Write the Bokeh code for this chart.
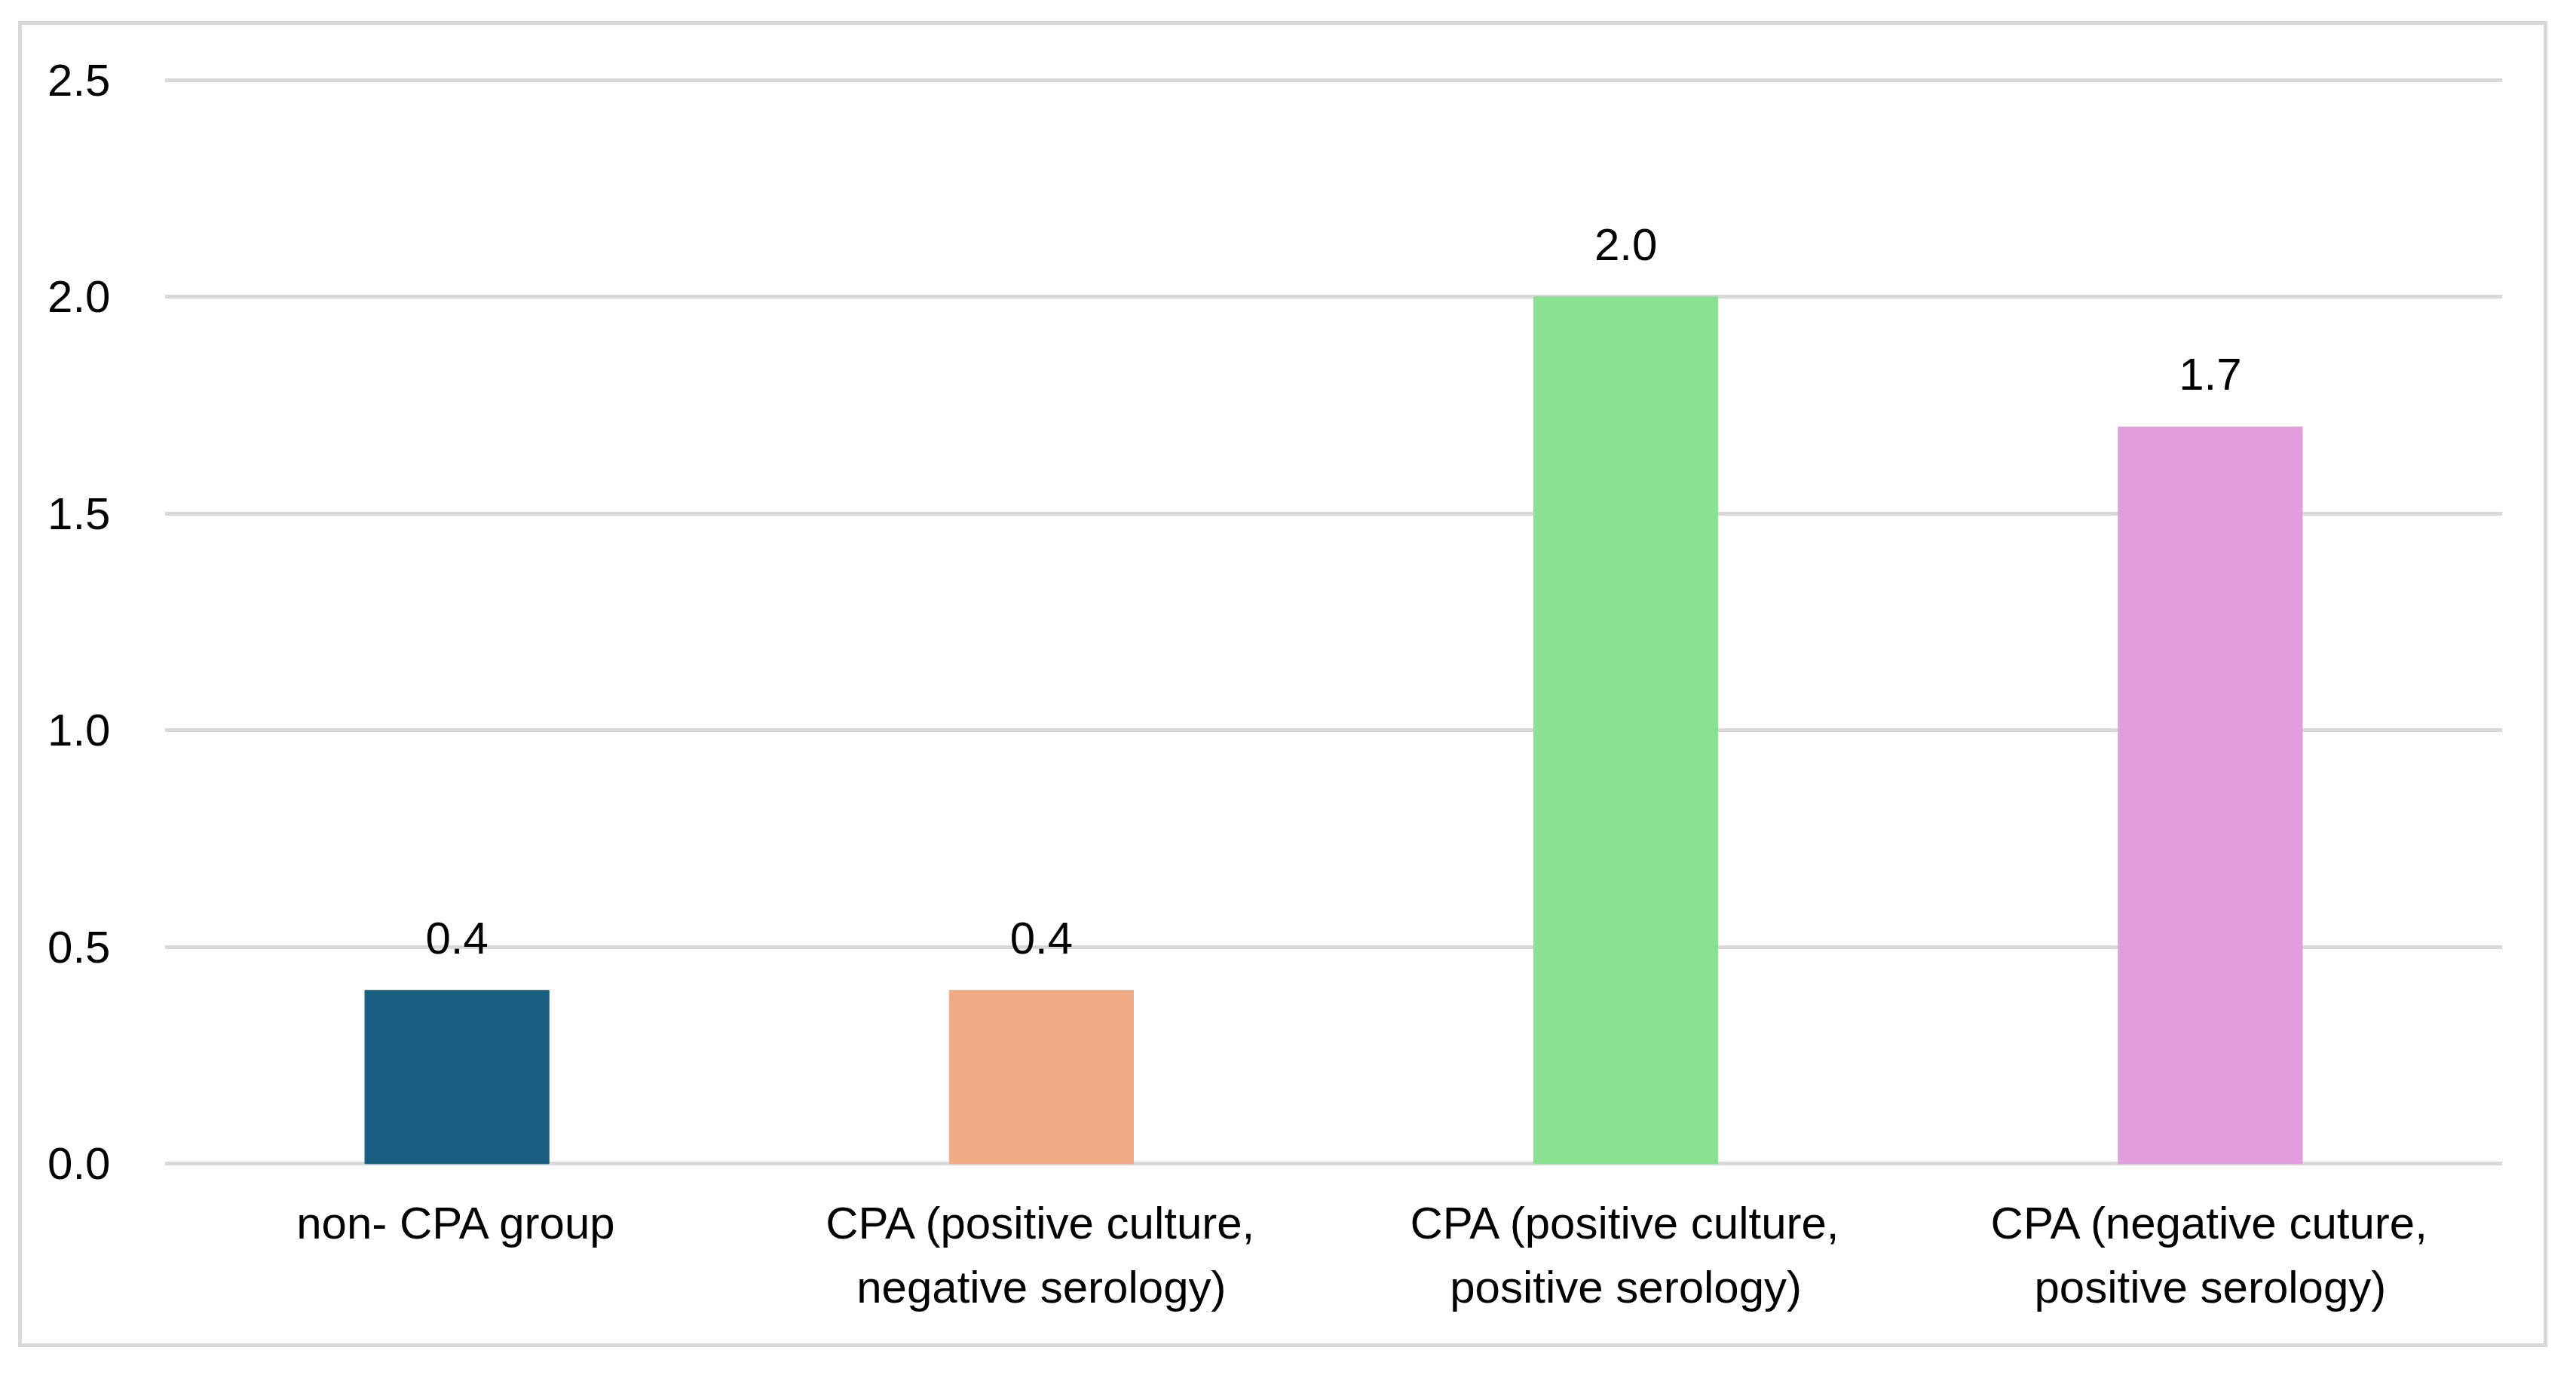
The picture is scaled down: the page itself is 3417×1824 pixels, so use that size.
from bokeh.plotting import figure
from bokeh.models import ColumnDataSource, FactorRange, Range1d, FixedTicker
from bokeh.core.properties import value
from bokeh.embed import file_html
from bokeh.resources import INLINE

categories = [
    "non- CPA group",
    "CPA (positive culture,\nnegative serology)",
    "CPA (positive culture,\npositive serology)",
    "CPA (negative cuture,\npositive serology)",
]
values = [0.4, 0.4, 2.0, 1.7]
colors = ["#185f80", "#f0aa84", "#88e290", "#e29edc"]
y_ticks = [0.0, 0.5, 1.0, 1.5, 2.0, 2.5]

src = ColumnDataSource(dict(
    cat=categories,
    val=values,
    color=colors,
    label=[f"{v:.1f}" for v in values],
))

p = figure(
    x_range=FactorRange(*categories, range_padding=0),
    y_range=Range1d(-0.01, 2.51),
    width=3355, height=1759,
    output_backend="svg", toolbar_location=None,
    min_border_left=189, min_border_right=65,
    min_border_top=67, min_border_bottom=243,
)
p.margin = (28, 0, 0, 24)
p.styles = {"border": "5px solid #d9d9d9"}
p.outline_line_color = None
p.background_fill_color = "white"
p.border_fill_color = "white"

p.vbar(x="cat", top="val", bottom=0, width=0.315, color="color", source=src)

p.text(x="cat", y="val", text="label", source=src,
       text_align="center", text_baseline="bottom", y_offset=-49,
       text_font=value("Liberation Sans"), text_font_size="60px", text_color="black")

p.xgrid.grid_line_color = None
p.ygrid.grid_line_color = "#d9d9d9"
p.ygrid.grid_line_width = 5

p.yaxis.ticker = FixedTicker(ticks=y_ticks)
p.yaxis.major_label_overrides = {t: f"{t:.1f}" for t in y_ticks}
p.yaxis.axis_line_color = None
p.yaxis.major_tick_line_color = None
p.yaxis.minor_tick_line_color = None
p.yaxis.major_label_standoff = 66
p.yaxis.major_label_text_font = "Liberation Sans"
p.yaxis.major_label_text_font_size = "60px"
p.yaxis.major_label_text_color = "black"

p.xaxis.axis_line_color = None
p.xaxis.major_tick_line_color = None
p.xaxis.minor_tick_line_color = None
p.xaxis.major_label_standoff = 33
p.xaxis.major_label_text_font = "Liberation Sans"
p.xaxis.major_label_text_font_size = "60px"
p.xaxis.major_label_text_line_height = 1.27
p.xaxis.major_label_text_color = "black"

open("out.html", "w").write(file_html(p, INLINE))
